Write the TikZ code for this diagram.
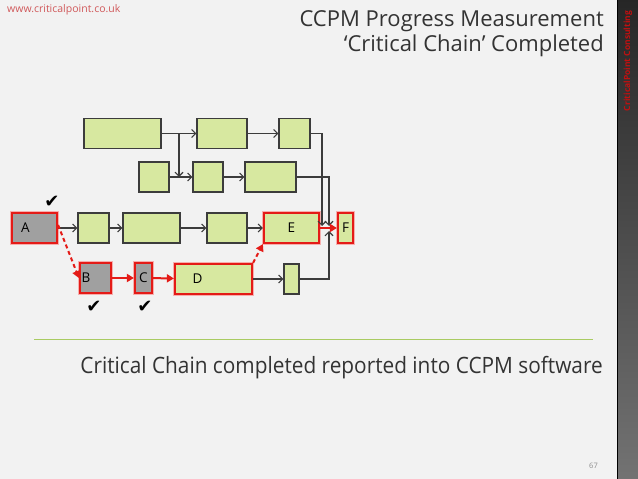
\documentclass[tikz,border=0pt]{standalone}
\usepackage{fontspec}
\setmainfont{Open Sans}
\newfontfamily\symfont{DejaVu Sans}
\newfontfamily\narrowfont[FakeStretch=0.925]{Open Sans}
\usetikzlibrary{arrows.meta}

\definecolor{slidebg}{HTML}{F2F2F2}
\definecolor{taskgreen}{RGB}{215,232,160}
\definecolor{taskline}{HTML}{3C3C3C}
\definecolor{chainred}{HTML}{E41B17}
\definecolor{donegrey}{HTML}{A0A0A0}
\definecolor{urlred}{HTML}{D0585A}
\definecolor{rulegreen}{HTML}{A9CB62}
\definecolor{brandred}{HTML}{C01010}

\begin{document}
\begin{tikzpicture}[x=1pt,y=-1pt,
    task/.style={draw=taskline, fill=taskgreen, line width=1.2pt, minimum height=30pt,
      inner sep=0pt, font=\fontsize{13.5}{15}\selectfont},
    chain/.style={task, draw=chainred, line width=2.2pt,
      preaction={draw=chainred!35, line width=4pt}},
    done/.style={chain, fill=donegrey},
    lbl/.style={anchor=west, inner sep=0pt, xshift=#1, font=\fontsize{13.5}{15}\selectfont},
    link/.style={draw=taskline, line width=1.1pt, -{Straight Barb[length=4pt,width=8pt]}},
    redlink/.style={draw=chainred, line width=2pt, -{Triangle[length=7pt,width=8pt]}},
    tick/.style={font=\symfont\fontsize{18}{18}\selectfont, inner sep=0pt}]
  % basics
  \useasboundingbox (0,0) rectangle (638,479);
  \fill[slidebg] (0,0) rectangle (617,479);
  \shade[top color=black!85, bottom color=black!55] (617,0) rectangle (638,479);
  \draw[black, line width=1pt] (617.5,0) -- (617.5,479);

  % header and footer
  \node[anchor=north west, inner sep=0pt, text=urlred, font=\fontsize{10.5}{12}\selectfont] (url) at (7,4) {www.criticalpoint.co.uk};
  \node[anchor=base east, align=right, inner sep=0pt, text=black!80, font=\fontsize{22}{25}\selectfont] (title) at (604,52) {CCPM Progress Measurement\\‘Critical Chain’ Completed};
  \node[rotate=90, inner sep=0pt, text=brandred, font=\bfseries\fontsize{8.5}{10}\selectfont] (brand) at (628,61) {CriticalPoint Consulting};
  \draw[rulegreen, line width=0.8pt] (34,339.5) -- (593,339.5);
  \node[anchor=base east, inner sep=0pt, text=black!80, font=\narrowfont\fontsize{22.5}{25}\selectfont] (caption) at (603,373) {Critical Chain completed reported into CCPM software};
  \node[anchor=base east, inner sep=0pt, text=black!45, font=\fontsize{7.5}{9}\selectfont] (pageno) at (598,468) {67};

  % tasks
  \node[task, minimum width=77pt] (T1) at (122.5,133.5) {};
  \node[task, minimum width=50pt] (T2) at (222,133.5) {};
  \node[task, minimum width=31pt] (T3) at (294.5,133.5) {};
  \node[task, minimum width=30pt] (S1) at (154,177) {};
  \node[task, minimum width=30pt] (S2) at (208,177) {};
  \node[task, minimum width=51pt] (S3) at (270.5,177) {};
  \node[done, minimum width=45pt, label={[lbl=10pt]west:A}] (A) at (34.5,228) {};
  \node[task, minimum width=31pt] (R1) at (93.5,228) {};
  \node[task, minimum width=57pt] (R2) at (151.5,228) {};
  \node[task, minimum width=40pt] (R3) at (227,228) {};
  \node[chain, minimum width=55pt] (E) at (291.5,228) {E};
  \node[chain, minimum width=15pt] (F) at (345.5,228) {F};
  \node[done, minimum width=31pt, label={[lbl=2.5pt]west:B}] (B) at (95.5,278) {};
  \node[done, minimum width=17pt] (C) at (143.5,278) {C};
  \node[chain, minimum width=77pt, label={[lbl=18.5pt]west:D}] (D) at (213.5,279) {};
  \node[task, minimum width=15pt] (G) at (291.5,279) {};

  % feeding chains
  \coordinate (split) at (179,133.5);
  \coordinate (joinA) at (322,226);
  \coordinate (joinB) at (329,226);
  \coordinate (joinC) at (329,231);
  \draw[link] (T1) -- (T2);
  \draw[link] (split) -- (split |- S1.east);
  \draw[link] (T2) -- (T3);
  \draw[link] (S1) -- (S2);
  \draw[link] (S2) -- (S3);
  \draw[link] (T3.east) -| (joinA);
  \draw[link] (S3.east) -| (joinB);
  \draw[link] (G.east) -| (joinC);
  \draw[link] (A) -- (R1);
  \draw[link] (R1) -- (R2);
  \draw[link] (R2) -- (R3);
  \draw[link] (R3) -- (E);
  \draw[link] (D) -- (G);

  % critical chain
  \draw[redlink, dash pattern=on 4pt off 3pt] ([yshift=3pt]A.east) -- (B.west);
  \draw[redlink] (B) -- (C);
  \draw[redlink] (C) -- (D);
  \draw[redlink, dash pattern=on 4pt off 3pt] (D.north east) -- (E.south west);
  \draw[redlink] (E) -- (F);

  % completed
  \node[tick] (tickA) at (52,202) {✔};
  \node[tick] (tickB) at (94,307) {✔};
  \node[tick] (tickC) at (145,307) {✔};
\end{tikzpicture}
\end{document}
